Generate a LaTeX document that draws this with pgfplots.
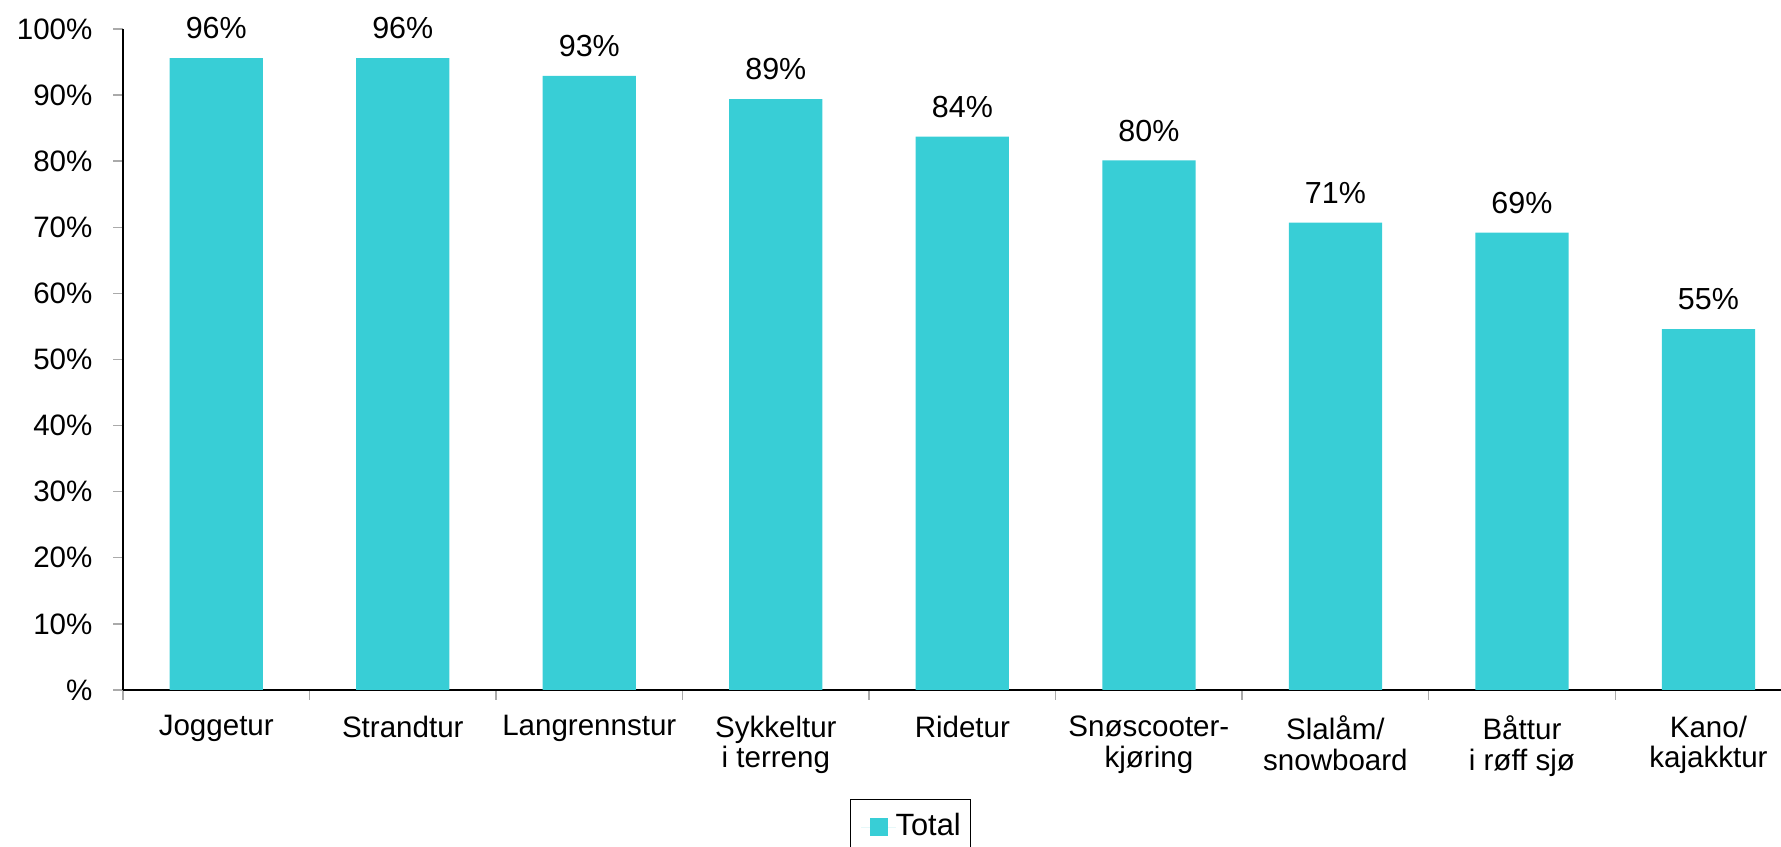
\documentclass[border=0pt]{standalone}
\usepackage{fontspec}
\setmainfont{Liberation Sans}
\usepackage{pgfplots}
\pgfplotsset{compat=1.18}
\definecolor{barcol}{RGB}{56,206,214}
\definecolor{tickgrey}{RGB}{170,170,170}

\begin{document}
% 1 px of the reference = 0.325pt
\begin{tikzpicture}[x=1pt,y=1pt,font=\fontsize{9.6}{10}\selectfont]
\useasboundingbox (-39.98,-51.04) rectangle (538.85,224.24);
\clip (-39.98,-51.04) rectangle (538.85,224.24);
\begin{axis}[
  at={(0,0)}, anchor=south west,
  scale only axis, width=538.85pt, height=214.83pt,
  xmin=-0.5, xmax=8.389, ymin=0, ymax=100,
  enlargelimits=false,
  axis x line*=bottom, axis y line*=left,
  axis line style={-,black,line width=0.45pt},
  ybar, bar width=0.5,
  xtick={0,...,8},
  xticklabels={Joggetur,Strandtur,Langrennstur,Sykkeltur\\i terreng,Ridetur,
    Snøscooter-\\kjøring,Slalåm/\\snowboard,Båttur\\i røff sjø,Kano/\\kajakktur},
  minor xtick={-0.5,0.5,...,7.5},
  ytick={0,10,...,100},
  yticklabels={\%,10\%,20\%,30\%,40\%,50\%,60\%,70\%,80\%,90\%,100\%},
  tick align=outside,
  major tick length=3.25pt, minor tick length=3.25pt,
  tick style={tickgrey,line width=0.45pt},
  major x tick style={draw=none},
  xticklabel style={align=center, inner sep=0pt, yshift=-4.9pt},
  yticklabel style={inner sep=0pt, xshift=-6.5pt},
  /pgf/number format/assume math mode=true,
  nodes near coords={\pgfmathprintnumber[fixed,precision=0]{\pgfplotspointmeta}\%},
  nodes near coords style={anchor=base, inner sep=0pt, yshift=6.2pt, black,
    font=\fontsize{9.9}{10}\selectfont},
  legend style={at={(0.4385,-0.1649)}, anchor=north west, draw=black,
    line width=0.45pt, inner xsep=3.25pt, inner ysep=4.4pt,
    nodes={inner sep=0pt}, font=\fontsize{10}{11}\selectfont},
  legend image code/.code={
    \path (0pt,0pt) rectangle (11.35pt,0pt);
    \fill[barcol] (2.95pt,-2.9pt) rectangle (8.8pt,2.9pt);},
]
\addplot[fill=barcol, draw=none] coordinates {
  (0,95.6) (1,95.6) (2,92.9) (3,89.4) (4,83.7)
  (5,80.1) (6,70.7) (7,69.2) (8,54.6)
};
\addlegendentry{Total}
\end{axis}
\end{tikzpicture}
\end{document}
